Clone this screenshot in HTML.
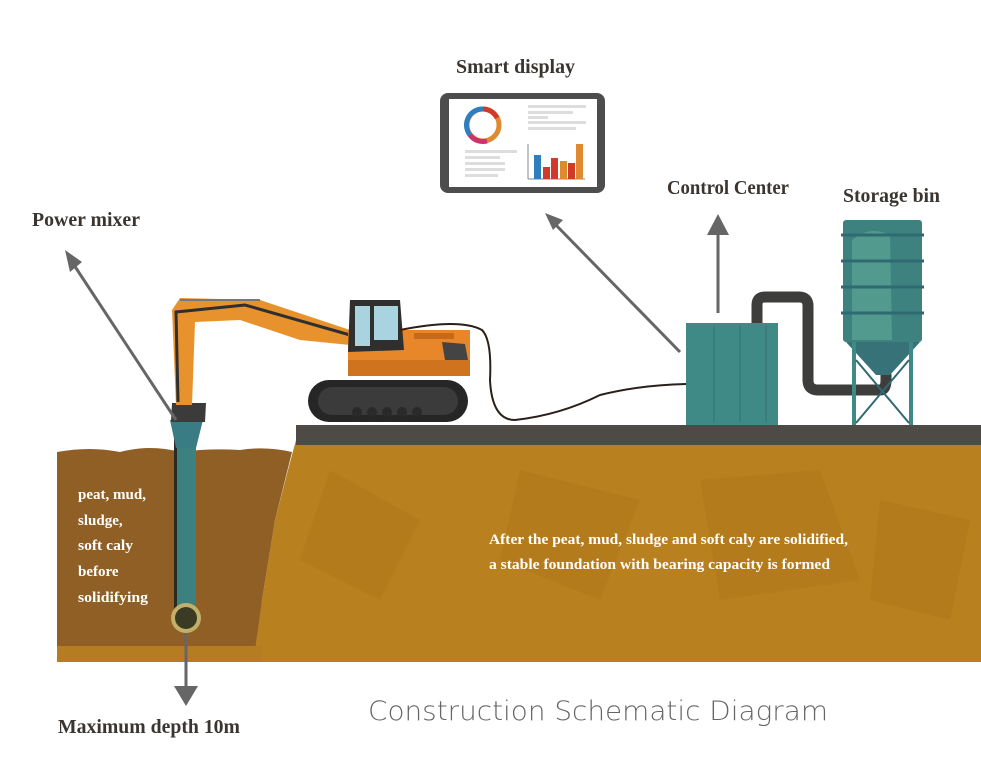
<!DOCTYPE html>
<html><head><meta charset="utf-8"><style>
html,body{margin:0;padding:0;background:#fff;}
svg{display:block;}
.t{font-family:"Liberation Serif",serif;font-weight:bold;fill:#3a3530;}
.w{font-family:"Liberation Serif",serif;font-weight:bold;fill:#fff;}
</style></head><body>
<svg width="981" height="759" viewBox="0 0 981 759" xmlns="http://www.w3.org/2000/svg">
<path d="M296 440 L981 440 L981 662 L250 662 L262 600 L275 520 L288 470 Z" fill="#b8801f"/>
<path d="M330 470 L420 520 L380 600 L300 560Z M520 470 L640 500 L600 600 L500 560Z M700 480 L820 470 L860 580 L720 600Z M880 500 L970 520 L950 620 L870 600Z" fill="#a97218" opacity="0.3"/>
<path d="M57 452 Q90 446 120 452 Q150 444 180 452 Q210 448 240 450 Q265 446 292 452 L275 520 L262 600 L255 650 L57 650 Z" fill="#8f5f26"/>
<rect x="57" y="646" width="205" height="16" fill="#b57c22"/>
<rect x="296" y="425" width="685" height="20" fill="#4e4a45"/>
<rect x="176" y="418" width="20" height="200" fill="#3c8080"/>
<rect x="174" y="418" width="3" height="198" fill="#2d2a20"/>
<path d="M170 420 L203 420 L196 448 L176 448Z" fill="#3a7c84"/>
<path d="M172 403 L206 403 L205 422 L171 422Z" fill="#3b3b3b"/>
<circle cx="186" cy="618" r="15" fill="#c2b06a"/>
<circle cx="186" cy="618" r="11" fill="#3b3b25"/>
<path d="M176 405 L172 310 L180 298 L260 300 L350 330 L350 345 L300 340 L240 320 L195 322 L192 405Z" fill="#e8922e"/>
<path d="M178 402 L176 312 L245 305 L350 335" fill="none" stroke="#2f2f2f" stroke-width="3"/>
<path d="M180 300 L260 300" stroke="#777" stroke-width="2"/>
<rect x="308" y="380" width="160" height="42" rx="21" fill="#262626"/>
<rect x="318" y="387" width="140" height="28" rx="14" fill="#3b3b3b"/>
<g fill="#2a2a2a"><circle cx="357" cy="412" r="5"/><circle cx="372" cy="412" r="5"/><circle cx="387" cy="412" r="5"/><circle cx="402" cy="412" r="5"/><circle cx="417" cy="412" r="5"/></g>
<rect x="348" y="330" width="122" height="46" fill="#e8862a"/>
<rect x="348" y="360" width="122" height="16" fill="#d0731f"/>
<rect x="414" y="333" width="40" height="6" fill="#c56a1c"/>
<path d="M442 342 L465 344 L468 360 L445 360Z" fill="#444"/>
<path d="M350 300 L400 300 L404 350 L348 352Z" fill="#2f2f2f"/>
<rect x="355" y="306" width="15" height="40" fill="#a9d3df"/>
<rect x="374" y="306" width="24" height="34" fill="#a9d3df"/>
<path d="M400 330 Q460 318 482 330 Q492 340 490 380 Q492 420 515 420 Q560 415 600 395 Q640 385 686 384" fill="none" stroke="#2b1f1c" stroke-width="2"/>
<rect x="686" y="323" width="92" height="102" fill="#3f8a86"/>
<g stroke="#356f75" stroke-width="1"><line x1="714" y1="326" x2="714" y2="422"/><line x1="740" y1="326" x2="740" y2="422"/><line x1="766" y1="326" x2="766" y2="422"/></g>
<path d="M757 323 L757 305 Q757 297 765 297 L799 297 Q808 297 808 306 L808 380 Q808 390 818 390 L880 390 Q886 390 886 380 L886 374" fill="none" stroke="#3d3d3b" stroke-width="11"/>
<rect x="843" y="220" width="79" height="122" rx="3" fill="#3e8280"/>
<path d="M852 240 Q870 225 890 235 L892 340 L852 340Z" fill="#52998e"/>
<g stroke="#2f6a72" stroke-width="3"><line x1="841" y1="235" x2="924" y2="235"/><line x1="841" y1="261" x2="924" y2="261"/><line x1="841" y1="287" x2="924" y2="287"/><line x1="841" y1="313" x2="924" y2="313"/></g>
<path d="M846 342 L920 342 L890 375 L876 375Z" fill="#367278"/>
<g stroke="#3f8a86" stroke-width="4"><line x1="854" y1="342" x2="854" y2="425"/><line x1="911" y1="342" x2="911" y2="425"/></g>
<g stroke="#2f6a72" stroke-width="2"><line x1="856" y1="360" x2="909" y2="423"/><line x1="909" y1="360" x2="856" y2="423"/></g>
<rect x="440" y="93" width="165" height="100" rx="8" fill="#4d4d4d"/>
<rect x="449" y="99" width="148" height="88" fill="#fff"/>
<circle cx="483" cy="125" r="16" fill="none" stroke="#e08a30" stroke-width="5"/>
<path d="M483 109 A16 16 0 0 0 470 135" fill="none" stroke="#2f7fc0" stroke-width="5"/>
<path d="M470 135 A16 16 0 0 0 487 141" fill="none" stroke="#cc3366" stroke-width="5"/>
<path d="M483 109 A16 16 0 0 1 497 118" fill="none" stroke="#d03a2a" stroke-width="5"/>
<g fill="#ddd"><rect x="528" y="105" width="58" height="3"/><rect x="528" y="111" width="45" height="3"/><rect x="528" y="116" width="20" height="3"/><rect x="528" y="121" width="58" height="3"/><rect x="528" y="127" width="48" height="3"/><rect x="465" y="150" width="52" height="3"/><rect x="465" y="156" width="35" height="3"/><rect x="465" y="162" width="40" height="3"/><rect x="465" y="168" width="40" height="3"/><rect x="465" y="174" width="33" height="3"/></g>
<line x1="528" y1="144" x2="528" y2="179" stroke="#888"/><line x1="528" y1="179" x2="585" y2="179" stroke="#888"/>
<rect x="534" y="155" width="7" height="24" fill="#2f7fc0"/><rect x="543" y="167" width="7" height="12" fill="#d03a2a"/><rect x="551" y="158" width="7" height="21" fill="#d03a2a"/><rect x="560" y="161" width="7" height="18" fill="#e08a30"/><rect x="568" y="163" width="7" height="16" fill="#d03a2a"/><rect x="576" y="144" width="7" height="35" fill="#e08a30"/>
<g stroke="#666" stroke-width="3" fill="#666">
<line x1="176" y1="420" x2="72" y2="262"/>
<line x1="186" y1="633" x2="186" y2="695"/>
<line x1="680" y1="352" x2="553" y2="222"/>
<line x1="718" y1="313" x2="718" y2="228"/>
</g>
<g fill="#666">
<polygon points="65,250 82,262 70,272"/>
<polygon points="186,706 174,686 198,686"/>
<polygon points="545,213 563,220 553,230"/>
<polygon points="718,214 707,235 729,235"/>
</g>
<g class="t" font-size="20">
<text x="32" y="226" textLength="108" lengthAdjust="spacingAndGlyphs">Power mixer</text>
<text x="456" y="73" textLength="119" lengthAdjust="spacingAndGlyphs">Smart display</text>
<text x="667" y="194" textLength="122" lengthAdjust="spacingAndGlyphs">Control Center</text>
<text x="843" y="202" textLength="97" lengthAdjust="spacingAndGlyphs">Storage bin</text>
<text x="58" y="733" textLength="182" lengthAdjust="spacingAndGlyphs">Maximum depth 10m</text>
</g>
<g class="w" font-size="15">
<text x="78" y="499" textLength="68" lengthAdjust="spacingAndGlyphs">peat, mud,</text>
<text x="78" y="525">sludge,</text>
<text x="78" y="550" textLength="55" lengthAdjust="spacingAndGlyphs">soft caly</text>
<text x="78" y="576">before</text>
<text x="78" y="602" textLength="70" lengthAdjust="spacingAndGlyphs">solidifying</text>
<text x="489" y="544" textLength="359" lengthAdjust="spacingAndGlyphs">After the peat, mud, sludge and soft caly are solidified,</text>
<text x="489" y="569" textLength="341" lengthAdjust="spacingAndGlyphs">a stable foundation with bearing capacity is formed</text>
</g>
<text x="368" y="720" font-family="DejaVu Sans,sans-serif" font-size="27" font-weight="200" fill="#666" textLength="460" lengthAdjust="spacingAndGlyphs">Construction Schematic Diagram</text>
</svg>
</body></html>
